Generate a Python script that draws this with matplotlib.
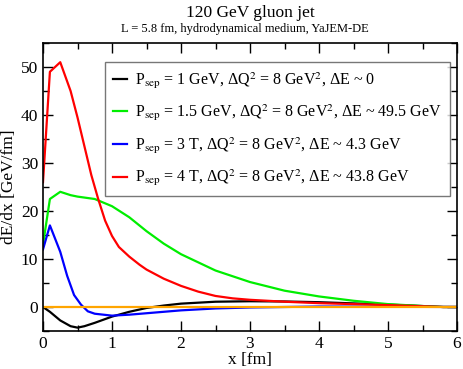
import numpy as np
import matplotlib.pyplot as plt
from matplotlib.ticker import MultipleLocator

plt.rcParams['font.family'] = ['Liberation Serif', 'DejaVu Serif']
plt.rcParams['mathtext.fontset'] = 'stix'

# energy loss profiles dE/dx vs x
x_black = [0, 0.1, 0.25, 0.4, 0.5, 0.6, 0.75, 1.0, 1.25, 1.5, 1.75, 2.0, 2.5, 3.0, 3.5, 4.0, 4.5, 5.0, 5.5, 5.8, 6.0]
y_black = [0, -1.0, -2.8, -4.0, -4.3, -4.0, -3.3, -2.0, -1.0, -0.2, 0.3, 0.7, 1.1, 1.2, 1.15, 1.0, 0.75, 0.5, 0.2, 0.0, 0.0]

x_green = [0, 0.1, 0.25, 0.4, 0.5, 0.75, 1.0, 1.25, 1.5, 1.75, 2.0, 2.5, 3.0, 3.5, 4.0, 4.5, 5.0, 5.5, 5.8, 6.0]
y_green = [13, 22.5, 24.0, 23.3, 23.0, 22.5, 21.0, 18.7, 15.8, 13.2, 11.0, 7.6, 5.2, 3.4, 2.2, 1.3, 0.6, 0.2, 0.0, 0.0]

x_blue = [0, 0.1, 0.25, 0.35, 0.45, 0.55, 0.65, 0.75, 1.0, 1.25, 1.5, 2.0, 2.5, 3.0, 4.0, 5.0, 6.0]
y_blue = [12, 17, 11.5, 6.5, 2.5, 0.5, -0.9, -1.4, -1.8, -1.6, -1.3, -0.7, -0.3, -0.1, 0.1, 0.05, 0.0]

x_red = [0, 0.1, 0.25, 0.4, 0.5, 0.6, 0.7, 0.8, 0.9, 1.0, 1.1, 1.25, 1.4, 1.5, 1.75, 2.0, 2.25, 2.5, 2.75, 3.0, 3.5, 4.0, 4.5, 5.0, 5.5, 5.8, 6.0]
y_red = [26, 49, 51, 45, 39.5, 33.5, 27.5, 22.5, 18.0, 14.8, 12.5, 10.5, 8.8, 7.8, 5.9, 4.4, 3.2, 2.3, 1.8, 1.5, 1.1, 0.8, 0.6, 0.4, 0.15, 0.0, 0.0]

labels = [r'P$_{\rm sep}$ = 1 GeV, ΔQ$^2$ = 8 GeV$^2$, ΔE ~ 0',
          r'P$_{\rm sep}$ = 1.5 GeV, ΔQ$^2$ = 8 GeV$^2$, ΔE ~ 49.5 GeV',
          r'P$_{\rm sep}$ = 3 T, ΔQ$^2$ = 8 GeV$^2$, ΔE ~ 4.3 GeV',
          r'P$_{\rm sep}$ = 4 T, ΔQ$^2$ = 8 GeV$^2$, ΔE ~ 43.8 GeV']

fig = plt.figure(figsize=(4.63, 3.69), dpi=100)
ax = fig.add_axes([43/463, 1-331/369, 414/463, 288/369])

ax.plot(x_black, y_black, color='black', lw=1.6, label=labels[0])
ax.plot(x_green, y_green, color='#00ee00', lw=1.6, label=labels[1])
ax.plot(x_blue, y_blue, color='#0000ff', lw=1.6, label=labels[2])
ax.plot(x_red, y_red, color='#ff0000', lw=1.6, label=labels[3])
ax.plot([0, 6], [0, 0], color='orange', lw=1.6)

ax.set_xlim(0, 6)
ax.set_ylim(-5, 55)
ax.xaxis.set_major_locator(MultipleLocator(1))
ax.xaxis.set_minor_locator(MultipleLocator(0.5))
ax.yaxis.set_major_locator(MultipleLocator(10))
ax.yaxis.set_minor_locator(MultipleLocator(5))
ax.tick_params(which='both', direction='in', top=True, right=True, labelsize=12.5, width=1)
ax.tick_params(which='major', length=7)
ax.tick_params(which='minor', length=4)
for s in ax.spines.values():
    s.set_linewidth(1.2)

ax.set_xlabel('x [fm]', fontsize=12.5, labelpad=0)
ax.set_ylabel('dE/dx [GeV/fm]', fontsize=12.5, labelpad=3)

fig.text(250/463, 1-13/369, '120 GeV gluon jet', ha='center', va='center', fontsize=12.5)
fig.text(245/463, 1-29/369, 'L = 5.8 fm, hydrodynamical medium, YaJEM-DE', ha='center', va='center', fontsize=9)

leg = ax.legend(loc='upper left', bbox_to_anchor=(62/414, 1-19/288), fontsize=11.5,
                frameon=True, fancybox=False, edgecolor='#555555', handlelength=0.9,
                handletextpad=0.5, labelspacing=0.75, borderpad=0.5, borderaxespad=0)
leg.get_frame().set_linewidth(1)

plt.savefig('out.png', dpi=100)
